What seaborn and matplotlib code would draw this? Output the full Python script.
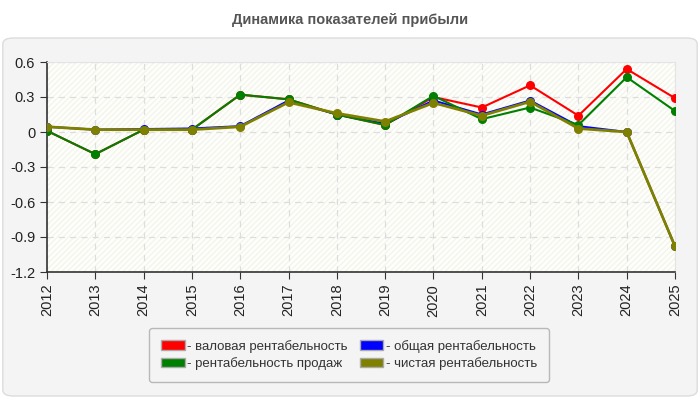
import pandas as pd
import matplotlib.pyplot as plt
import seaborn as sns
from matplotlib.patches import FancyBboxPatch, Patch

sns.set_style("white")
plt.rcParams["font.family"] = ["Liberation Sans", "DejaVu Sans"]

years = list(range(2012, 2026))
gross = [0.01, -0.19, 0.02, 0.02, 0.32, 0.28, 0.15, 0.06, 0.30, 0.21, 0.40, 0.14, 0.54, 0.29]
total = [0.045, 0.02, 0.025, 0.03, 0.05, 0.27, 0.15, 0.07, 0.27, 0.15, 0.27, 0.05, 0.0, -0.98]
sales = [0.01, -0.19, 0.02, 0.02, 0.32, 0.28, 0.15, 0.06, 0.31, 0.11, 0.21, 0.06, 0.47, 0.18]
net = [0.045, 0.02, 0.02, 0.02, 0.045, 0.255, 0.16, 0.09, 0.25, 0.14, 0.26, 0.03, 0.0, -0.98]

labels = ["- валовая рентабельность", "- общая рентабельность",
          "- рентабельность продаж", "- чистая рентабельность"]
colors = ["#ff0000", "#0000ff", "#008000", "#808000"]

df = pd.DataFrame({"Год": years * 4,
                   "Значение": gross + total + sales + net,
                   "Показатель": sum([[l] * len(years) for l in labels], [])})

fig = plt.figure(figsize=(7, 4), dpi=100)
fig.patch.set_facecolor("white")
panel = FancyBboxPatch((0.004, 0.01), 0.992, 0.895, boxstyle="round,pad=0,rounding_size=0.015",
                       transform=fig.transFigure, facecolor="#f4f4f4", edgecolor="#dcdcdc",
                       lw=1, zorder=-10)
fig.patches.append(panel)
fig.text(0.5, 0.95, "Динамика показателей прибыли", ha="center", va="center",
         fontsize=10.5, fontweight="bold", color="#555555")

ax = fig.add_axes([47 / 700, 1 - 272 / 400, 628 / 700, 210 / 400])
ax.set_facecolor("#fffffa")
ax.fill_between([2011, 2026], -1.2, 0.6, facecolor="none", edgecolor="#f3f3f0",
                hatch="//////", lw=0, zorder=0)

widths = [1.5, 1.5, 1.5, 2.0]
for lab, c, w in zip(labels, colors, widths):
    sns.lineplot(data=df[df["Показатель"] == lab], x="Год", y="Значение", color=c,
                 marker="o", markersize=6.5, markeredgewidth=0, lw=w, ax=ax, zorder=3)

ax.set_xlim(2012, 2025)
ax.set_ylim(-1.2, 0.6)
ax.set_xticks(years)
ax.set_xticklabels([str(y) for y in years], rotation=90)
yt = [0.6, 0.3, 0, -0.3, -0.6, -0.9, -1.2]
ax.set_yticks(yt)
ax.set_yticklabels(["0.6", "0.3", "0", "-0.3", "-0.6", "-0.9", "-1.2"])
ax.tick_params(axis="both", labelsize=10.5, length=5, color="#333333", direction="out",
               left=True, bottom=True, labelcolor="#222222")
ax.grid(True, color="#dddddd", ls=(0, (5, 4)), lw=0.9)
ax.set_axisbelow(True)
ax.set_xlabel("")
ax.set_ylabel("")
for s in ["top", "right"]:
    ax.spines[s].set_color("#e4e4e4")
for s in ["left", "bottom"]:
    ax.spines[s].set_color("#333333")
    ax.spines[s].set_linewidth(1.2)

handles = [Patch(facecolor=c, edgecolor="#aaaaaa") for c in colors]
order = [0, 2, 1, 3]
leg = fig.legend([handles[i] for i in order], [labels[i] for i in order], ncol=2,
                 loc="center", bbox_to_anchor=(349 / 700, 1 - 355 / 400), frameon=True,
                 fontsize=9.5, handlelength=1.8, handleheight=0.7, handletextpad=0.2,
                 columnspacing=0.9, labelspacing=0.35, borderpad=0.9, fancybox=True)
leg.get_frame().set_edgecolor("#aaaaaa")
leg.get_frame().set_facecolor("#f4f4f4")
for t in leg.get_texts():
    t.set_color("#333333")

fig.savefig("out.png", dpi=100)
